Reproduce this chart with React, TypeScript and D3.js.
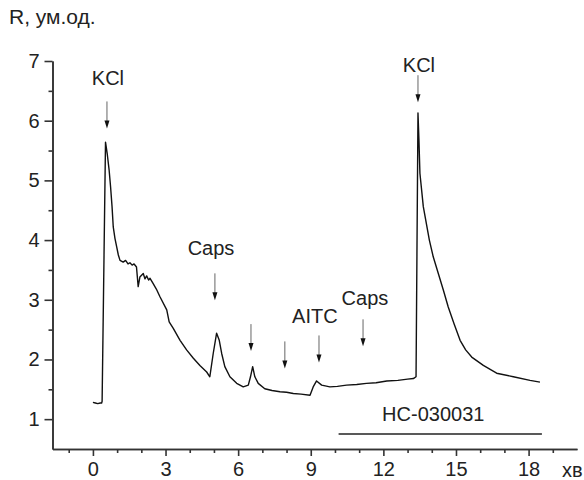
import React, { useEffect, useRef } from "react";
import * as d3 from "d3";

// trace: time (хв) and ratio R
const time = [
  0, 0.1, 0.2, 0.3, 0.36, 0.38, 0.52, 0.59, 0.67, 0.73, 0.79, 0.84, 0.91, 0.98, 1.05, 1.12,
  1.25, 1.35, 1.45, 1.53, 1.62, 1.7, 1.8, 1.87, 1.94, 2.08, 2.15, 2.22, 2.3, 2.36, 2.49, 2.62,
  2.77, 3.05, 3.15, 3.32, 3.6, 3.87, 4.15, 4.42, 4.7, 4.83, 4.97, 5.11, 5.22, 5.32, 5.45, 5.66,
  5.94, 6.21, 6.42, 6.51, 6.6, 6.69, 6.83, 7.1, 7.4, 7.73, 8.0, 8.28, 8.6, 8.97, 9.1, 9.24, 9.45,
  9.79, 10.1, 10.48, 10.9, 11.3, 11.7, 12.14, 12.6, 13.0, 13.24, 13.35, 13.43, 13.47, 13.51,
  13.65, 13.9, 14.06, 14.27, 14.48, 14.68, 14.92, 15.17, 15.4, 15.65, 16.13, 16.68, 17.37,
  18.06, 18.47,
];
const ratio = [
  1.28, 1.27, 1.26, 1.27, 1.27, 1.3, 5.64, 5.45, 5.17, 4.89, 4.56, 4.22, 4.03, 3.89, 3.75, 3.66,
  3.63, 3.66, 3.6, 3.62, 3.58, 3.6, 3.55, 3.22, 3.38, 3.44, 3.35, 3.4, 3.33, 3.36, 3.27, 3.18,
  3.05, 2.83, 2.63, 2.52, 2.32, 2.16, 2.02, 1.9, 1.79, 1.71, 2.1, 2.44, 2.32, 2.1, 1.88, 1.71,
  1.6, 1.54, 1.57, 1.71, 1.88, 1.71, 1.6, 1.51, 1.48, 1.46, 1.45, 1.43, 1.42, 1.4, 1.54, 1.64,
  1.57, 1.54, 1.55, 1.57, 1.58, 1.6, 1.61, 1.64, 1.65, 1.67, 1.68, 1.71, 6.13, 5.67, 5.12,
  4.56, 4.0, 3.72, 3.44, 3.16, 2.88, 2.6, 2.32, 2.16, 2.04, 1.9, 1.77, 1.71, 1.65, 1.62,
];

// application arrows
const arrowTimes = [0.58, 5.04, 6.53, 7.93, 9.34, 11.16, 13.43];
const arrowTips = [5.87, 2.99, 2.14, 1.85, 1.95, 2.22, 6.31];
const labels = ["KCl", "Caps", "AITC", "Caps", "KCl"];
const labelTimes = [0.62, 4.88, 9.17, 11.24, 13.47];
const labelValues = [6.59, 3.75, 2.61, 2.91, 6.81];

// blocker bar
const barLabel = "HC-030031";
const barStart = 10.15;
const barEnd = 18.55;
const barValue = 0.75;

const yMajor = [1, 2, 3, 4, 5, 6, 7];
const yMinor = [1.5, 2.5, 3.5, 4.5, 5.5, 6.5];
const xMajor = [0, 3, 6, 9, 12, 15, 18];
const xMinor = [-1, 1, 2, 4, 5, 7, 8, 10, 11, 13, 14, 16, 17, 19];

const width = 584;
const height = 480;
const font = "'Liberation Sans', Arial, sans-serif";

export default function App() {
  const xRef = useRef<SVGGElement>(null);
  const yRef = useRef<SVGGElement>(null);

  const x = d3.scaleLinear().domain([-1.67, 20]).range([52.5, 577]);
  const y = d3.scaleLinear().domain([0.5, 7]).range([449, 61]);

  useEffect(() => {
    const gx = d3.select(xRef.current);
    gx.selectAll("*").remove();
    gx.append("g").call(d3.axisBottom(x).tickValues(xMinor).tickSize(4).tickSizeOuter(0).tickFormat(() => ""));
    gx.append("g").call(
      d3.axisBottom(x).tickValues(xMajor).tickSize(7).tickSizeOuter(0).tickPadding(6).tickFormat(d3.format("d"))
    );
    gx.selectAll("path, line").attr("stroke", "#333").attr("stroke-width", 1.6);
    gx.selectAll("text").attr("font-size", 20).attr("font-family", font).attr("fill", "#222");

    const gy = d3.select(yRef.current);
    gy.selectAll("*").remove();
    gy.append("g").call(d3.axisLeft(y).tickValues(yMinor).tickSize(4).tickSizeOuter(0).tickFormat(() => ""));
    gy.append("g").call(
      d3.axisLeft(y).tickValues(yMajor).tickSize(8).tickSizeOuter(0).tickPadding(5).tickFormat(d3.format("d"))
    );
    gy.selectAll("path, line").attr("stroke", "#333").attr("stroke-width", 1.6);
    gy.selectAll("text").attr("font-size", 20).attr("font-family", font).attr("fill", "#222");
  }, []);

  const line = d3
    .line<number>()
    .x((_, i) => x(time[i]))
    .y((v) => y(v));

  return (
    <svg width={width} height={height} style={{ position: "absolute", left: 0, top: 0 }}>
      <rect width={width} height={height} fill="#fff" />
      <text x={9} y={24} fontSize={21} fontFamily={font} fill="#222">
        R, ум.од.
      </text>
      <g ref={xRef} transform={`translate(0,${y(0.5)})`} />
      <g ref={yRef} transform={`translate(${x(-1.67)},0)`} />

      <path d={line(ratio) || ""} fill="none" stroke="#111" strokeWidth={1.4} strokeLinejoin="round" />

      {arrowTimes.map((t, i) => {
        const ax = x(t);
        const tip = y(arrowTips[i]);
        return (
          <g key={i}>
            <line x1={ax} x2={ax} y1={tip - 27} y2={tip - 6} stroke="#666" strokeWidth={1} />
            <path d={`M${ax - 2.5},${tip - 8}L${ax + 2.5},${tip - 8}L${ax},${tip}Z`} fill="#111" />
          </g>
        );
      })}

      {labels.map((l, i) => (
        <text
          key={i}
          x={x(labelTimes[i])}
          y={y(labelValues[i])}
          textAnchor="middle"
          fontSize={20}
          fontFamily={font}
          fill="#222"
        >
          {l}
        </text>
      ))}

      <line x1={x(barStart)} x2={x(barEnd)} y1={y(barValue)} y2={y(barValue)} stroke="#222" strokeWidth={1.5} />
      <text
        x={x((barStart + barEnd) / 2) - 7}
        y={y(barValue) - 13}
        textAnchor="middle"
        fontSize={20}
        fontFamily={font}
        fill="#222"
      >
        {barLabel}
      </text>

      <text x={562} y={477} fontSize={20} fontFamily={font} fill="#222">
        хв
      </text>
    </svg>
  );
}
